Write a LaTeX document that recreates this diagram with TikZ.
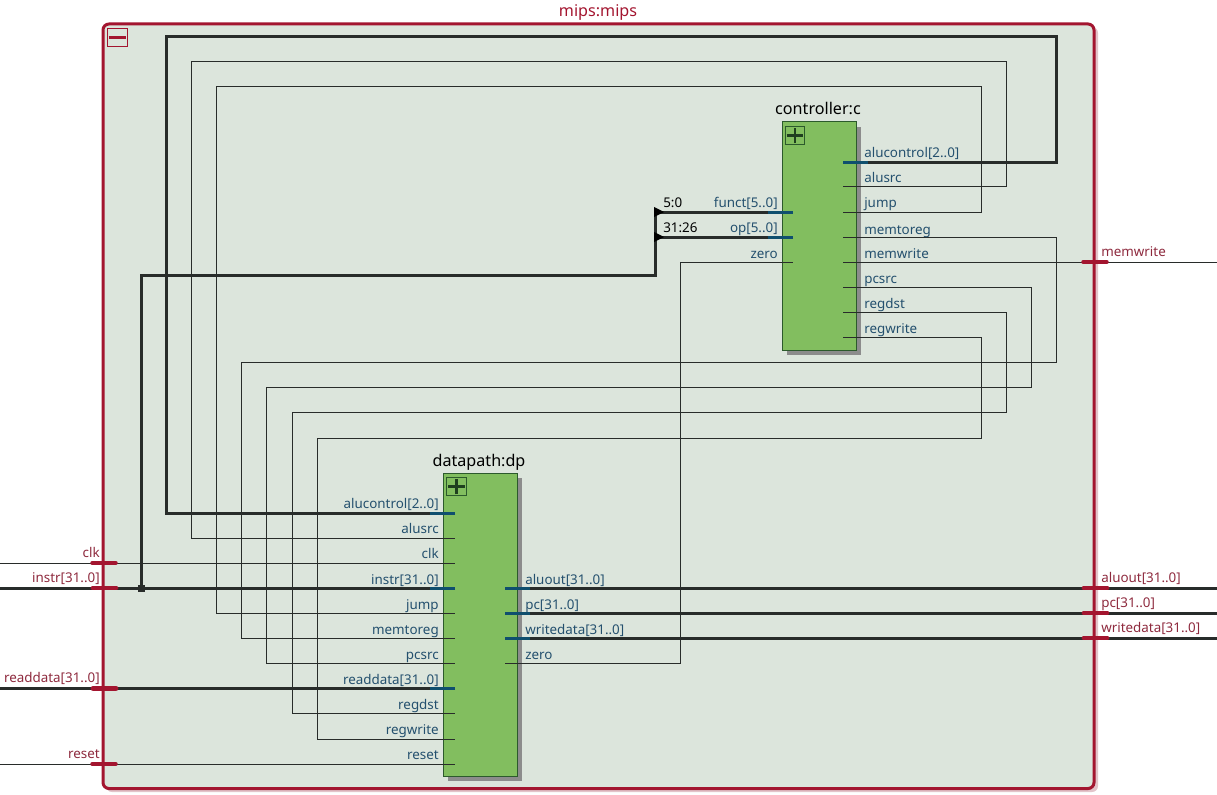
\documentclass[tikz,border=0pt]{standalone}
\usepackage{fontspec}
\setmainfont{Noto Sans}
\definecolor{framered}{HTML}{A3152F}
\definecolor{labelred}{HTML}{8E2A3E}
\definecolor{framefill}{HTML}{DCE5DC}
\definecolor{frameshadow}{HTML}{E3C4CA}
\definecolor{wirecol}{HTML}{282C2A}
\definecolor{pinblue}{HTML}{0F4F6E}
\definecolor{labelblue}{HTML}{24506E}
\definecolor{blockfill}{HTML}{82BE5F}
\definecolor{blockline}{HTML}{2C5A2C}
\definecolor{blockshadow}{HTML}{8C8C8C}
\tikzset{
  x=0.75pt,y=-0.75pt,
  frameBox/.style={draw=framered,line width=2.25pt,fill=framefill,rounded corners=4.5pt,inner sep=0pt,minimum width=743.25pt,minimum height=573.4pt},
  blockBox/.style={draw=blockline,line width=0.75pt,fill=blockfill,inner sep=0pt,minimum width=55.5pt},
  thin wire/.style={draw=wirecol,line width=0.75pt},
  bus wire/.style={draw=wirecol,line width=2.25pt},
  pinBus/.style={draw=pinblue,line width=2.25pt},
  framePinThin/.style={draw=framered,line width=2.6pt},
  framePinBus/.style={draw=framered,line width=3.6pt},
  portL/.style={text=labelblue,inner sep=0pt,anchor=base west,font=\fontsize{10.05pt}{12pt}\selectfont},
  portR/.style={text=labelblue,inner sep=0pt,anchor=base east,font=\fontsize{10.05pt}{12pt}\selectfont},
  outerL/.style={text=labelred,inner sep=0pt,anchor=base west,font=\fontsize{10.05pt}{12pt}\selectfont},
  outerR/.style={text=labelred,inner sep=0pt,anchor=base east,font=\fontsize{10.05pt}{12pt}\selectfont},
  title/.style={inner sep=0pt,anchor=base,font=\fontsize{12.1pt}{14pt}\selectfont},
  slice/.style={text=black,inner sep=0pt,anchor=base west,font=\fontsize{10.05pt}{12pt}\selectfont},
  toggleBox/.style={draw=blockline,line width=0.75pt,inner sep=0pt,minimum width=14.6pt,minimum height=14.2pt},
}
\begin{document}
\begin{tikzpicture}
\useasboundingbox (0,0) rectangle (1217,795);
% frame
\fill[frameshadow,rounded corners=4.5pt] (106,27) rectangle (1098,792);
\node[frameBox] (frame) at (598.5,406.25) {};
\node[title,text=framered] (frametitle) at (598,17) {mips:mips};
\node[draw=framered,line width=0.75pt,inner sep=0pt,minimum width=15pt,minimum height=14.2pt] (frametoggle) at (117,37.5) {};
\draw[framered,line width=1.9pt] ([xshift=1.5pt]frametoggle.west) -- ([xshift=-1.5pt]frametoggle.east);
% blocks
\fill[blockshadow] (787,127) rectangle (861,355);
\fill[blockshadow] (448,478) rectangle (522,781);
\node[blockBox,minimum height=171pt] (ctrl) at (819,236) {};
\node[blockBox,minimum height=227.25pt] (dp) at (480,624.5) {};
\node[title] (ctrltitle) at (818,115) {controller:c};
\node[title] (dptitle) at (479,466) {datapath:dp};
\node[toggleBox] (ctrltoggle) at (795,135.5) {};
\node[toggleBox] (dptoggle) at (456.5,486.5) {};
\draw[blockline!70!black,line width=2pt]
  ([xshift=1.5pt]ctrltoggle.west) -- ([xshift=-1.5pt]ctrltoggle.east)
  ([yshift=1.5pt]ctrltoggle.south) -- ([yshift=-1.5pt]ctrltoggle.north)
  ([xshift=1.5pt]dptoggle.west) -- ([xshift=-1.5pt]dptoggle.east)
  ([yshift=1.5pt]dptoggle.south) -- ([yshift=-1.5pt]dptoggle.north);
% pins
\coordinate (cAlucontrol) at (843,162.4);
\coordinate (cAlusrc) at (843,187);
\coordinate (cJump) at (843,212);
\coordinate (cMemtoreg) at (843,237);
\coordinate (cMemwrite) at (843,262);
\coordinate (cPcsrc) at (843,287);
\coordinate (cRegdst) at (843,312);
\coordinate (cRegwrite) at (843,337);
\coordinate (cFunct) at (793,212);
\coordinate (cOp) at (793,237);
\coordinate (cZero) at (793,262);
\coordinate (dAlucontrol) at (455,513);
\coordinate (dAlusrc) at (455,538);
\coordinate (dClk) at (455,563);
\coordinate (dInstr) at (455,588);
\coordinate (dJump) at (455,613);
\coordinate (dMemtoreg) at (455,638);
\coordinate (dPcsrc) at (455,663);
\coordinate (dReaddata) at (455,688.3);
\coordinate (dRegdst) at (455,713);
\coordinate (dRegwrite) at (455,739);
\coordinate (dReset) at (455,764);
\coordinate (dAluout) at (505,588);
\coordinate (dPc) at (505,613);
\coordinate (dWritedata) at (505,638);
\coordinate (dZero) at (505,663);
\coordinate (inClk) at (0,563);
\coordinate (inInstr) at (0,588);
\coordinate (inReaddata) at (0,688.3);
\coordinate (inReset) at (0,764);
\coordinate (outMemwrite) at (1217,262);
\coordinate (outAluout) at (1217,588);
\coordinate (outPc) at (1217,613);
\coordinate (outWritedata) at (1217,638);
\coordinate (busTap) at (141,588);
\coordinate (rip) at (655.7,275);
\coordinate (ripFunct) at (655.7,212);
\coordinate (ripOp) at (655.7,237);
% wires
\draw[bus wire] (cAlucontrol) -- (1056,162.4) -- (1056,37) -- (166.7,37) -- (166.7,513) -- (dAlucontrol);
\draw[thin wire] (cAlusrc) -- (1006,187) -- (1006,61.5) -- (191.7,61.5) -- (191.7,538) -- (dAlusrc);
\draw[thin wire] (cJump) -- (981,212) -- (981,87) -- (216.7,87) -- (216.7,613) -- (dJump);
\draw[thin wire] (cMemtoreg) -- (1056,237) -- (1056,362) -- (241.7,362) -- (241.7,638) -- (dMemtoreg);
\draw[thin wire] (cMemwrite) -- (outMemwrite);
\draw[thin wire] (cPcsrc) -- (1031,287) -- (1031,387) -- (266.7,387) -- (266.7,663) -- (dPcsrc);
\draw[thin wire] (cRegdst) -- (1006,312) -- (1006,412) -- (292,412) -- (292,713) -- (dRegdst);
\draw[thin wire] (cRegwrite) -- (981,337) -- (981,438) -- (317,438) -- (317,739) -- (dRegwrite);
\draw[thin wire] (dZero) -- (680,663) -- (680,262) -- (cZero);
\draw[thin wire] (inClk) -- (dClk);
\draw[thin wire] (inReset) -- (dReset);
\draw[bus wire] (inInstr) -- (dInstr);
\draw[bus wire] (inReaddata) -- (dReaddata);
\draw[bus wire] (dAluout) -- (outAluout);
\draw[bus wire] (dPc) -- (outPc);
\draw[bus wire] (dWritedata) -- (outWritedata);
\draw[bus wire,line join=miter] (busTap) -- (141,275) -- (rip) -- (ripFunct) -- (cFunct);
\draw[bus wire] (ripOp) -- (cOp);
\fill[wirecol] (137.5,584.5) rectangle (144.5,591.5);
\fill[black] (654,207) -- (664,212) -- (654,217) -- cycle;
\fill[black] (654,232) -- (664,237) -- (654,242) -- cycle;
% pin stubs
\draw[pinBus] (cAlucontrol) -- +(25,0);
\draw[pinBus] (cFunct) -- +(-25,0);
\draw[pinBus] (cOp) -- +(-25,0);
\draw[pinBus] (dAlucontrol) -- +(-25,0);
\draw[pinBus] (dInstr) -- +(-25,0);
\draw[pinBus] (dReaddata) -- +(-25,0);
\draw[pinBus] (dAluout) -- +(25,0);
\draw[pinBus] (dPc) -- +(25,0);
\draw[pinBus] (dWritedata) -- +(25,0);
% frame pins
\draw[framePinThin,line cap=round] (92,563) -- (116,563);
\draw[framePinBus,line cap=round] (93,588) -- (116,588);
\draw[framePinBus,line cap=round] (93,688.3) -- (116,688.3);
\draw[framePinThin,line cap=round] (92,764) -- (116,764);
\draw[framePinThin,line cap=round] (1083,262) -- (1107,262);
\draw[framePinBus,line cap=round] (1084,588) -- (1107,588);
\draw[framePinBus,line cap=round] (1084,613) -- (1107,613);
\draw[framePinBus,line cap=round] (1084,638) -- (1107,638);
% port labels
\node[portL] (lcA) at (864,158) {alucontrol[2..0]};
\node[portL] (lcB) at (864,183) {alusrc};
\node[portL] (lcC) at (864,208) {jump};
\node[portL] (lcD) at (864,234) {memtoreg};
\node[portL] (lcE) at (864,258) {memwrite};
\node[portL] (lcF) at (864,283) {pcsrc};
\node[portL] (lcG) at (864,308) {regdst};
\node[portL] (lcH) at (864,333) {regwrite};
\node[portR] (lcI) at (778,207) {funct[5..0]};
\node[portR] (lcJ) at (778,233) {op[5..0]};
\node[portR] (lcK) at (778,258) {zero};
\node[portR] (ldA) at (439,508) {alucontrol[2..0]};
\node[portR] (ldB) at (439,533) {alusrc};
\node[portR] (ldC) at (439,558) {clk};
\node[portR] (ldD) at (439,584) {instr[31..0]};
\node[portR] (ldE) at (439,609) {jump};
\node[portR] (ldF) at (439,634) {memtoreg};
\node[portR] (ldG) at (439,659) {pcsrc};
\node[portR] (ldH) at (439,684) {readdata[31..0]};
\node[portR] (ldI) at (439,709) {regdst};
\node[portR] (ldJ) at (439,734) {regwrite};
\node[portR] (ldK) at (439,759) {reset};
\node[portL] (ldL) at (525,584) {aluout[31..0]};
\node[portL] (ldM) at (525,609) {pc[31..0]};
\node[portL] (ldN) at (525,634) {writedata[31..0]};
\node[portL] (ldO) at (525,659) {zero};
% slices
\node[slice] (sliceA) at (663,208) {5:0};
\node[slice] (sliceB) at (663,233) {31:26};
% outer labels
\node[outerR] (oClk) at (100,557) {clk};
\node[outerR] (oInstr) at (100,582) {instr[31..0]};
\node[outerR] (oRead) at (100,682) {readdata[31..0]};
\node[outerR] (oReset) at (100,758) {reset};
\node[outerL] (oMem) at (1101,256) {memwrite};
\node[outerL] (oAlu) at (1101,582) {aluout[31..0]};
\node[outerL] (oPc) at (1101,607) {pc[31..0]};
\node[outerL] (oWrite) at (1101,632) {writedata[31..0]};
\end{tikzpicture}
\end{document}
